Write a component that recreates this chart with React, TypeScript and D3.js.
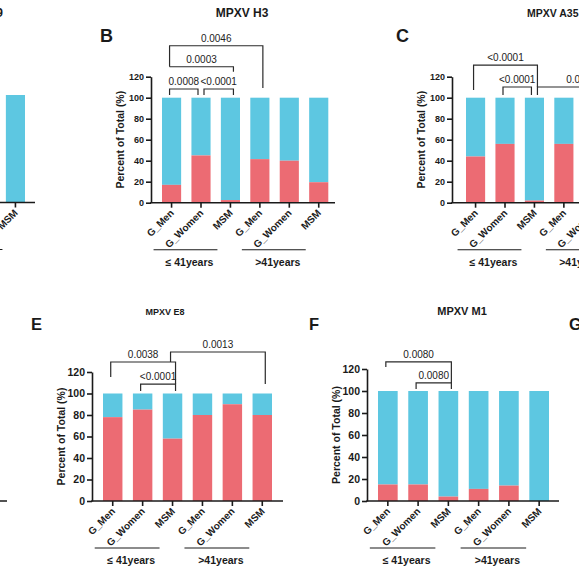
import React, { useEffect, useRef } from 'react';
import * as d3 from 'd3';

// ---- data ----
const categories = ['G_Men', 'G_Women', 'MSM', 'G_Men', 'G_Women', 'MSM'];
const ageGroups = ['≤ 41years', '>41years'];
const yTicks = [0, 20, 40, 60, 80, 100, 120];

// percent of "red" responders per bar, the rest up to 100% is blue
// null = bar lies outside the cropped figure
const redA = [null, null, null, null, null, 0];
const redB = [17, 45, 2.5, 41.5, 40, 19.5];
const redC = [44, 56, 2, 56, null, null];
const redD = [null, null, null, null, null, null];
const redE = [78, 85, 58, 80, 90, 80];
const redF = [15, 15, 4, 11, 14, 0];

interface Bracket {
  from: number;
  to: number;
  p: string;
  level: number; // y in axis units (%)
  legs: [number, number];
}

const bracketsB: Bracket[] = [
  { from: 0, to: 1, p: '0.0008', level: 108.3, legs: [102.6, 102.6] },
  { from: 1, to: 2, p: '<0.0001', level: 108.3, legs: [102.6, 102.6] },
  { from: 0, to: 2, p: '0.0003', level: 129.5, legs: [129.5, 124.8] },
  { from: 0, to: 3, p: '0.0046', level: 149.5, legs: [129.5, 109.2] },
];
const bracketsC: Bracket[] = [
  { from: 0, to: 2, p: '<0.0001', level: 131, legs: [107.3, 110.2] },
  { from: 1, to: 2, p: '<0.0001', level: 110.2, legs: [102.6, 102.6] },
  { from: 2, to: 5, p: '0.0017', level: 110.2, legs: [102.6, 102.6] },
];
const bracketsE: Bracket[] = [
  { from: 0, to: 2, p: '0.0038', level: 129.3, legs: [115.3, 108.8] },
  { from: 1, to: 2, p: '<0.0001', level: 108.8, legs: [102.3, 102.3] },
  { from: 2, to: 5, p: '0.0013', level: 138.6, legs: [129.3, 108.8] },
];
const bracketsF: Bracket[] = [
  { from: 0, to: 2, p: '0.0080', level: 126.4, legs: [121.8, 107.3] },
  { from: 1, to: 2, p: '0.0080', level: 107.3, legs: [101.8, 101.8] },
];

// ---- layout ----
const CYAN = '#5dc7e1';
const RED = '#ec6b73';
const INK = '#1a1a1a';
const FONT = '"Liberation Sans", Arial, Helvetica, sans-serif';

interface PanelCfg {
  red: (number | null)[];
  brackets: Bracket[];
  bars: [number, number];
  axis: [number, number];
  yRange: [number, number];
  tickSize: number;
  title?: { text: string; x: number; y: number; anchor: string; size: number };
  letter?: { text: string; x: number; y: number; size: number };
}

const panels: PanelCfg[] = [
  {
    red: redA, brackets: [], bars: [-141.3, 25], axis: [-152, 35], yRange: [202.5, 73.5], tickSize: 9,
    title: { text: 'MPXV A29', x: 3, y: 17, anchor: 'end', size: 12 },
  },
  {
    red: redB, brackets: bracketsB, bars: [162, 328.3], axis: [151, 335], yRange: [202.7, 76.7], tickSize: 9,
    title: { text: 'MPXV H3', x: 242, y: 17, anchor: 'middle', size: 12 },
    letter: { text: 'B', x: 100, y: 42, size: 18 },
  },
  {
    red: redC, brackets: bracketsC, bars: [466, 632.3], axis: [452, 637], yRange: [202.7, 76.7], tickSize: 9,
    title: { text: 'MPXV A35', x: 527, y: 17, anchor: 'start', size: 10.5 },
    letter: { text: 'C', x: 396, y: 42, size: 18 },
  },
  {
    red: redD, brackets: [], bars: [-172, -3], axis: [-183, 7], yRange: [501, 372], tickSize: 10.5,
  },
  {
    red: redE, brackets: bracketsE, bars: [103, 272], axis: [92, 283], yRange: [501, 372], tickSize: 10.5,
    title: { text: 'MPXV E8', x: 165, y: 315, anchor: 'middle', size: 9 },
    letter: { text: 'E', x: 31, y: 330, size: 16.5 },
  },
  {
    red: redF, brackets: bracketsF, bars: [378, 549], axis: [367, 559], yRange: [501, 369], tickSize: 10.5,
    title: { text: 'MPXV M1', x: 462, y: 315, anchor: 'middle', size: 11 },
    letter: { text: 'F', x: 309, y: 330, size: 16.5 },
  },
];

function drawPanel(svg: d3.Selection<SVGSVGElement, unknown, null, undefined>, cfg: PanelCfg) {
  const g = svg.append('g');
  const x = d3.scaleBand<number>().domain(d3.range(categories.length)).range(cfg.bars).paddingInner(0.35).paddingOuter(0);
  const y = d3.scaleLinear().domain([0, 120]).range(cfg.yRange);
  const cx = (i: number) => (x(i) as number) + x.bandwidth() / 2;
  const [ax0, ax1] = cfg.axis;
  const y0 = y(0);

  const vis = cfg.red.map((r, i) => ({ r, i })).filter((d) => d.r != null) as { r: number; i: number }[];

  // stacked bars
  g.selectAll('rect.top').data(vis).join('rect')
    .attr('x', (d) => x(d.i) as number).attr('width', x.bandwidth())
    .attr('y', y(100)).attr('height', (d) => y(d.r) - y(100))
    .attr('fill', CYAN);
  g.selectAll('rect.bot').data(vis).join('rect')
    .attr('x', (d) => x(d.i) as number).attr('width', x.bandwidth())
    .attr('y', (d) => y(d.r)).attr('height', (d) => y0 - y(d.r))
    .attr('fill', RED);

  // y axis
  const yAxis = g.append('g').attr('transform', `translate(${ax0},0)`)
    .call(d3.axisLeft(y).tickValues(yTicks).tickSize(5).tickSizeOuter(0).tickPadding(2));
  yAxis.select('.domain').attr('stroke', INK).attr('stroke-width', 1.6);
  yAxis.selectAll('.tick line').attr('stroke', INK).attr('stroke-width', 1.6);
  yAxis.selectAll('.tick text').attr('fill', INK).attr('font-family', FONT)
    .attr('font-weight', 'bold').attr('font-size', cfg.tickSize);

  g.append('text')
    .attr('transform', `translate(${ax0 - 31},${y(60)}) rotate(-90)`)
    .attr('text-anchor', 'middle').attr('dy', '0.35em')
    .attr('font-family', FONT).attr('font-weight', 'bold').attr('font-size', 10.5).attr('fill', INK)
    .text('Percent of Total (%)');

  // x axis
  g.append('line').attr('x1', ax0 - 0.8).attr('x2', ax1).attr('y1', y0).attr('y2', y0)
    .attr('stroke', INK).attr('stroke-width', 1.6);
  const xAxis = g.append('g').attr('transform', `translate(0,${y0})`)
    .call(d3.axisBottom(x).tickSize(5).tickFormat(() => ''));
  xAxis.select('.domain').remove();
  xAxis.selectAll('.tick line').attr('stroke', INK).attr('stroke-width', 1.6);

  g.selectAll('text.cat').data(categories).join('text')
    .attr('transform', (_, i) => `translate(${cx(i) + 3},${y0 + 11}) rotate(-45)`)
    .attr('text-anchor', 'end')
    .attr('font-family', FONT).attr('font-weight', 'bold').attr('font-size', 10).attr('fill', INK)
    .text((d) => d);

  // age group underlines
  ageGroups.forEach((label, k) => {
    const a = cx(k * 3) - 18;
    const b = cx(k * 3 + 2) - 13;
    g.append('line').attr('x1', a).attr('x2', b).attr('y1', y0 + 47).attr('y2', y0 + 47)
      .attr('stroke', INK).attr('stroke-width', 1.1);
    g.append('text').attr('x', (a + b) / 2 + 4).attr('y', y0 + 63).attr('text-anchor', 'middle')
      .attr('font-family', FONT).attr('font-weight', 'bold').attr('font-size', 10.5).attr('fill', INK)
      .text(label);
  });

  // significance brackets
  cfg.brackets.forEach((b) => {
    const shareL = cfg.brackets.some((o) => o !== b && o.to === b.from && o.level === b.level);
    const shareR = cfg.brackets.some((o) => o !== b && o.from === b.to && o.level === b.level);
    const x1 = cx(b.from) - 2 + (shareL ? 5 : 0);
    const x2 = cx(b.to) + 3 - (shareR ? 6 : 0);
    const yl = y(b.level);
    g.append('path')
      .attr('d', `M${x1},${y(b.legs[0])}V${yl}H${x2}V${y(b.legs[1])}`)
      .attr('fill', 'none').attr('stroke', '#2a2a2a').attr('stroke-width', 1.2);
    g.append('text').attr('x', (x1 + x2) / 2).attr('y', yl - 4).attr('text-anchor', 'middle')
      .attr('font-family', FONT).attr('font-size', 10).attr('fill', '#222')
      .text(b.p);
  });

  if (cfg.title) {
    g.append('text').attr('x', cfg.title.x).attr('y', cfg.title.y).attr('text-anchor', cfg.title.anchor)
      .attr('font-family', FONT).attr('font-weight', 'bold').attr('font-size', cfg.title.size).attr('fill', INK)
      .text(cfg.title.text);
  }
  if (cfg.letter) {
    g.append('text').attr('x', cfg.letter.x).attr('y', cfg.letter.y)
      .attr('font-family', FONT).attr('font-weight', 'bold').attr('font-size', cfg.letter.size).attr('fill', INK)
      .text(cfg.letter.text);
  }
}

const App: React.FC = () => {
  const svgRef = useRef<SVGSVGElement>(null);

  useEffect(() => {
    if (!svgRef.current) return;
    const svg = d3.select(svgRef.current);
    svg.selectAll('*').remove();
    panels.forEach((p) => drawPanel(svg, p));
    // next panel letter at the right edge of the crop
    svg.append('text').attr('x', 569).attr('y', 330)
      .attr('font-family', FONT).attr('font-weight', 'bold').attr('font-size', 16.5).attr('fill', INK)
      .text('G');

    // the figure is a crop: drop texts that fall completely outside it
    const box = svgRef.current.getBoundingClientRect();
    svg.selectAll<SVGTextElement, unknown>('text').each(function () {
      const r = this.getBoundingClientRect();
      if (r.right <= box.left || r.left >= box.right || r.bottom <= box.top || r.top >= box.bottom) {
        d3.select(this).remove();
      }
    });
  }, []);

  return (
    <div style={{ position: 'absolute', left: 0, top: 0 }}>
      <svg ref={svgRef} width={579} height={579} style={{ display: 'block', background: '#fff' }} />
    </div>
  );
};

export default App;
